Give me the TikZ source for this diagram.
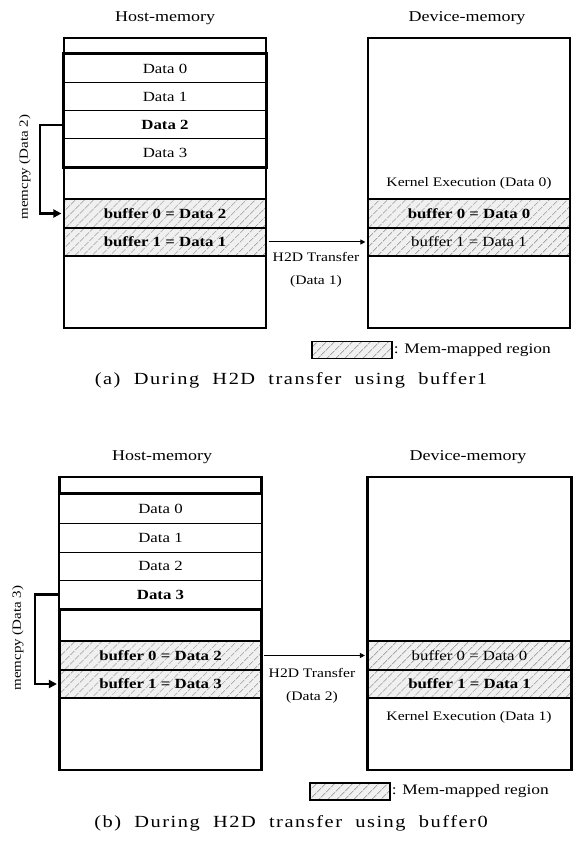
\documentclass[tikz,border=0pt]{standalone}
\usepackage{fontspec}
\setmainfont[FakeStretch=1.2]{Liberation Serif}
\newfontfamily\capfont[FakeStretch=1.2,LetterSpace=9,WordSpace=2]{Liberation Serif}
\usetikzlibrary{patterns.meta,arrows.meta}
\newcommand\fsz[1]{\fontsize{#1}{#1}\selectfont}
\begin{document}
\begin{tikzpicture}[x=1pt,y=-1pt,
  cell/.style={draw, line width=1pt, minimum width=202pt, inner sep=0pt, font=\fsz{14}},
  tcell/.style={cell, line width=2.6pt},
  hatch/.style={preaction={fill=black!6}, preaction={pattern={Lines[angle=45,distance=6.5pt,line width=0.8pt]}, pattern color=black!35}},
  title/.style={font=\fsz{15}},
  small/.style={font=\fsz{13}},
  cpy/.style={line width=2.2pt, -{Triangle[length=8pt,width=8pt]}},
  xfer/.style={line width=1pt, -{Triangle[length=5pt,width=5pt]}},
  captxt/.style={font=\capfont\fsz{17}},
  legbox/.style={draw, line width=1.1pt, minimum width=80pt, minimum height=17pt, inner sep=0pt, hatch}
]
\useasboundingbox (0,0) rectangle (577,858);

% ================= Panel (a) =================
\node[title] (a-ht) at (165,18) {Host-memory};
\node[title] (a-dt) at (467,18) {Device-memory};

\node[cell, minimum height=29pt] (a-d0) at (165,68.5) {Data 0};
\node[cell, minimum height=28pt] (a-d1) at (165,97) {Data 1};
\node[cell, minimum height=28pt] (a-d2) at (165,125) {\textbf{Data 2}};
\node[cell, minimum height=28pt] (a-d3) at (165,153) {Data 3};
\draw[line width=2.6pt] (a-d0.north west) rectangle (a-d3.south east);
\node[tcell, minimum height=16pt] (a-top) at (165,46) {};
\node[tcell, minimum height=32pt] (a-e) at (165,183) {};
\node[tcell, hatch, minimum height=29pt] (a-b0) at (165,213.5) {\textbf{buffer 0 = Data 2}};
\node[tcell, hatch, minimum height=28pt] (a-b1) at (165,242) {\textbf{buffer 1 = Data 1}};
\node[tcell, minimum height=72pt] (a-bot) at (165,292) {};

\node[tcell, minimum height=161pt] (a-dtop) at (469,118.5) {};
\node[small] (a-ke) at (469,183) {Kernel Execution (Data 0)};
\node[tcell, hatch, minimum height=29pt] (a-db0) at (469,213.5) {\textbf{buffer 0 = Data 0}};
\node[tcell, hatch, minimum height=28pt] (a-db1) at (469,242) {buffer 1 = Data 1};
\node[tcell, minimum height=72pt] (a-dbot) at (469,292) {};

\draw[cpy] ([xshift=-1.3pt]a-d2.west) -- ++(-22,0) |- ([xshift=-1.3pt]a-b0.west);
\node[font=\fsz{12.5}, rotate=90] (a-mc) at (25,167) {memcpy (Data 2)};

\draw[xfer] ([xshift=1.3pt]a-b1.east) -- ([xshift=-1.3pt]a-db1.west);
\node[small] (a-h2d) at (316,257) {H2D Transfer};
\node[small] (a-h2dd) at (316,281) {(Data 1)};

\node[legbox] (a-leg) at (352,350) {};
\node[font=\fsz{14.5}, anchor=west, inner sep=1pt] (a-legt) at (a-leg.east) {: Mem-mapped region};

\node[captxt] (a-cap) at (291,380) {(a) During H2D transfer using buffer1};

% ================= Panel (b) =================
\node[title] (b-ht) at (162,457) {Host-memory};
\node[title] (b-dt) at (468,457) {Device-memory};

\node[cell, minimum height=29pt] (b-d0) at (160.5,508.5) {Data 0};
\node[cell, minimum height=29pt] (b-d1) at (160.5,537.5) {Data 1};
\node[cell, minimum height=28pt] (b-d2) at (160.5,566) {Data 2};
\node[cell, minimum height=29pt] (b-d3) at (160.5,594.5) {\textbf{Data 3}};
\draw[line width=2.6pt] (b-d0.north west) rectangle (b-d3.south east);
\node[tcell, minimum height=17pt] (b-top) at (160.5,485.5) {};
\node[tcell, minimum height=32pt] (b-e) at (160.5,625) {};
\node[tcell, hatch, minimum height=29pt] (b-b0) at (160.5,655.5) {\textbf{buffer 0 = Data 2}};
\node[tcell, hatch, minimum height=28pt] (b-b1) at (160.5,684) {\textbf{buffer 1 = Data 3}};
\node[tcell, minimum height=72pt] (b-bot) at (160.5,734) {};

\node[tcell, minimum width=204pt, minimum height=164pt] (b-dtop) at (469.5,559) {};
\node[tcell, hatch, minimum width=204pt, minimum height=29pt] (b-db0) at (469.5,655.5) {buffer 0 = Data 0};
\node[tcell, hatch, minimum width=204pt, minimum height=28pt] (b-db1) at (469.5,684) {\textbf{buffer 1 = Data 1}};
\node[tcell, minimum width=204pt, minimum height=72pt] (b-dbot) at (469.5,734) {};
\node[small] (b-ke) at (469,717) {Kernel Execution (Data 1)};

\draw[cpy] ([xshift=-1.3pt]b-d3.west) -- ++(-23,0) |- ([xshift=-1.3pt]b-b1.west);
\node[font=\fsz{12.5}, rotate=90] (b-mc) at (18,638) {memcpy (Data 3)};

\draw[xfer] ([xshift=1.3pt]b-b0.east) -- ([xshift=-1.3pt]b-db0.west);
\node[small] (b-h2d) at (312,673) {H2D Transfer};
\node[small] (b-h2dd) at (312,697) {(Data 2)};

\node[legbox] (b-leg) at (350,791.5) {};
\node[font=\fsz{14.5}, anchor=west, inner sep=1pt] (b-legt) at (b-leg.east) {: Mem-mapped region};

\node[captxt] (b-cap) at (291,823) {(b) During H2D transfer using buffer0};
\end{tikzpicture}
\end{document}
